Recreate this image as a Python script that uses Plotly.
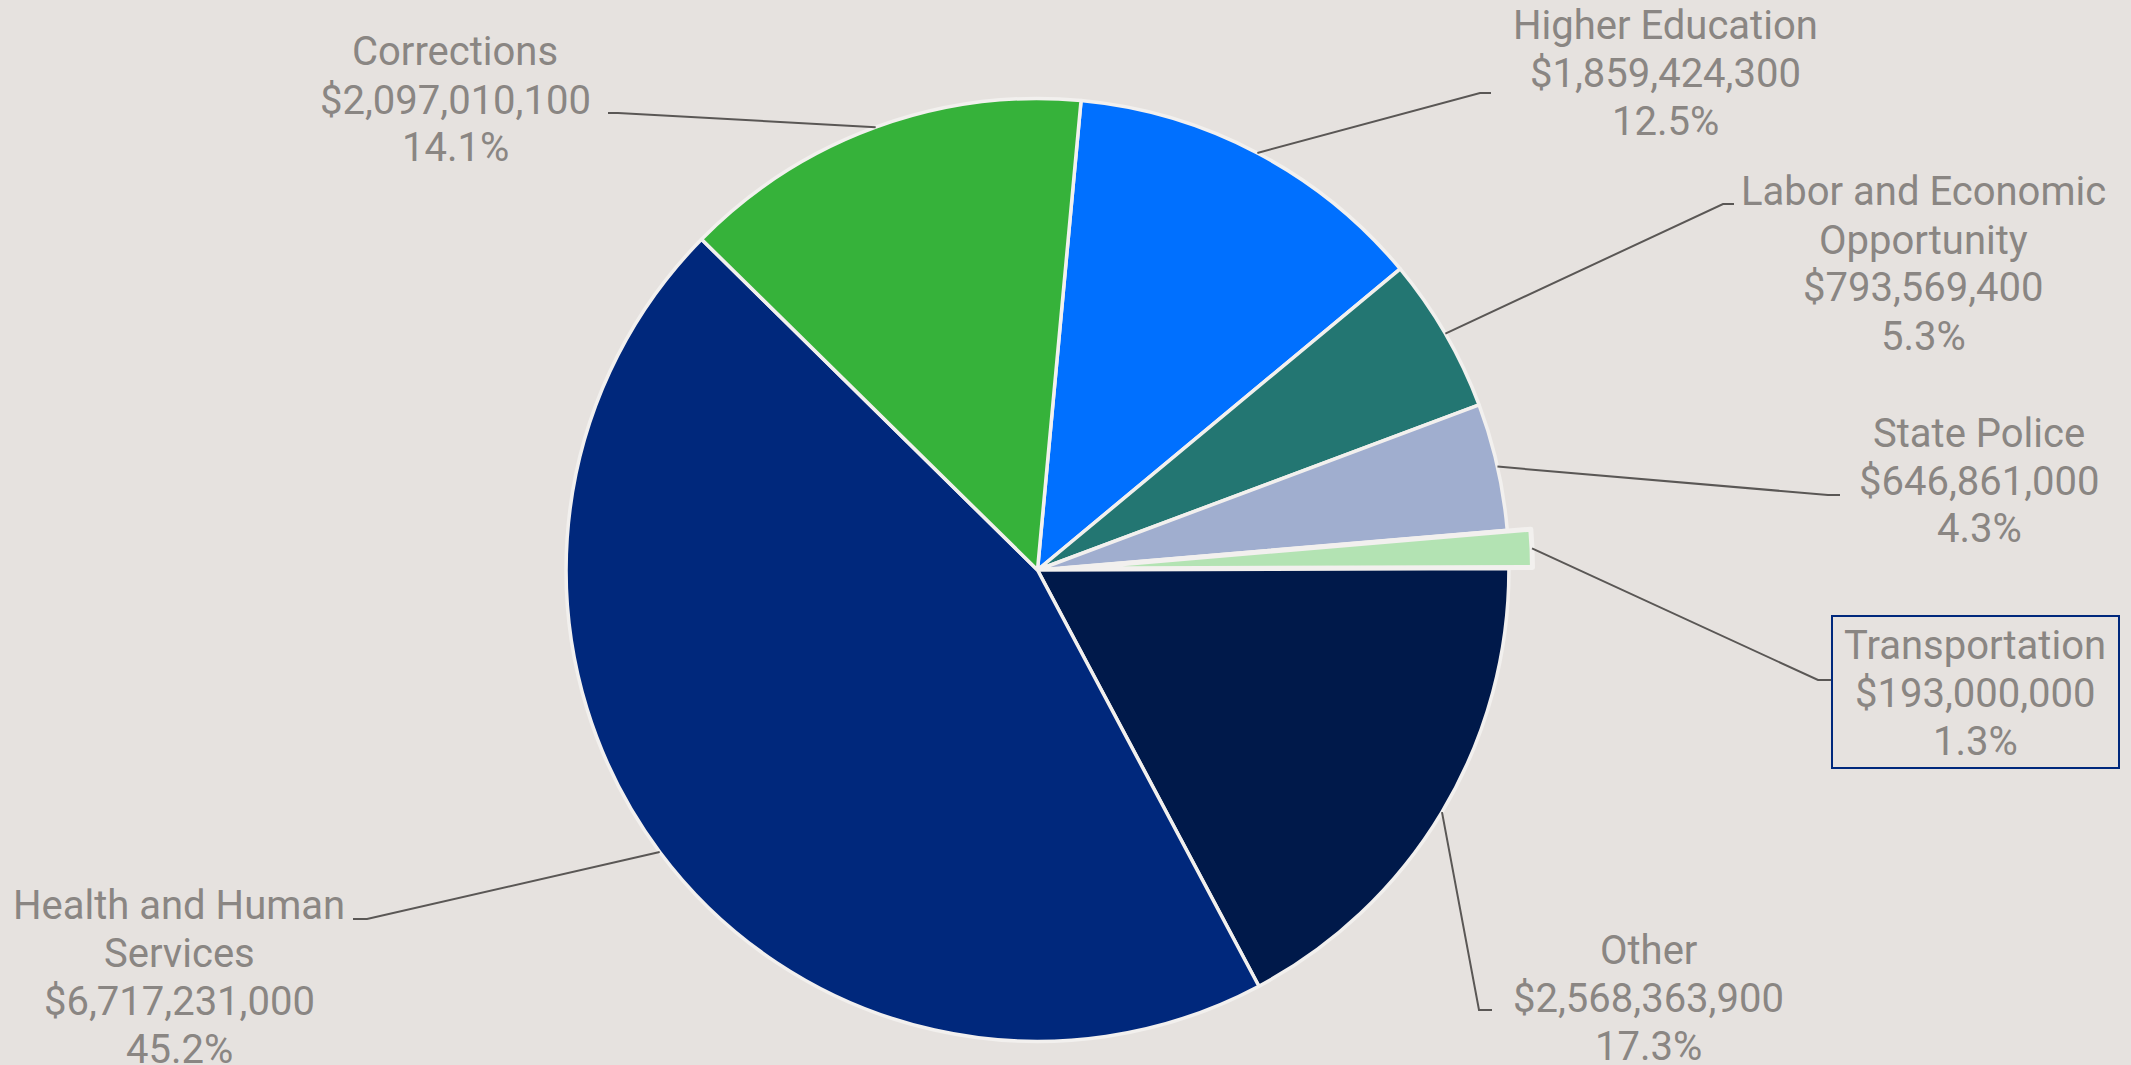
import math
import plotly.graph_objects as go

# ---- data ----
categories = ["Higher Education", "Labor and Economic Opportunity", "State Police",
              "Transportation", "Other", "Health and Human Services", "Corrections"]
values = [1859424300, 793569400, 646861000, 193000000, 2568363900, 6717231000, 2097010100]
label_lines = [
    ["Higher Education"],
    ["Labor and Economic", "Opportunity"],
    ["State Police"],
    ["Transportation"],
    ["Other"],
    ["Health and Human", "Services"],
    ["Corrections"],
]
colors = ["#0070FF", "#237672", "#A0AECF", "#B3E3B3", "#00194A", "#00287C", "#36B23A"]
pulls = [0, 0, 0, 0.05, 0, 0, 0]

# ---- layout constants (pixels) ----
W, H = 2131, 1065
BG = "#E6E2DF"
TXT = "#8A8683"
FONT = "Roboto"
FS = 40
LH = 48
ROT = 5.3  # degrees clockwise from 12 o'clock where first slice starts

cx_px = 1037.5
cy_px = 570.0
ry = H - cy_px              # half-height of pie domain (domain touches bottom)
r_px = ry / (1 + max(pulls))
dom_y = [0, 2 * ry / H]
dom_x = [(cx_px - ry) / W, (cx_px + ry) / W]

# label placement: (center x, first line y), leader (elbow x, elbow y, end x)
label_pos = [
    (1665, 25, (1480, 93, 1491)),
    (1923, 192, (1723, 204, 1734)),
    (1979, 433, (1828, 495, 1840)),
    (1975, 645, (1818, 680, 1831)),
    (1648, 950, (1479, 1010, 1492)),
    (179, 905, (367, 919, 353)),
    (455, 52, (618, 113, 608)),
]

total = sum(values)


def px2paper(x, y):
    return x / W, 1 - y / H


fig = go.Figure()
fig.add_trace(go.Pie(
    labels=categories,
    values=values,
    sort=False,
    direction="clockwise",
    rotation=ROT,
    pull=pulls,
    marker=dict(colors=colors,
                line=dict(color="#F2F0EE", width=[3.5, 3.5, 3.5, 5, 3.5, 3.5, 3.5])),
    textinfo="none",
    showlegend=False,
    domain=dict(x=dom_x, y=dom_y),
))

annotations = []
shapes = []
cum = 0.0
for i, v in enumerate(values):
    frac = v / total
    mid = ROT + 360 * (cum + frac / 2)
    cum += frac
    a = math.radians(mid)
    rr = r_px * (1 + pulls[i])
    ax = cx_px + rr * math.sin(a)
    ay = cy_px - rr * math.cos(a)
    lx, ly0, (ex, ey, endx) = label_pos[i]
    lines = label_lines[i] + ["${:,.0f}".format(v), "{:.1f}%".format(frac * 100)]
    for k, t in enumerate(lines):
        px, py = px2paper(lx, ly0 + k * LH)
        annotations.append(dict(
            x=px, y=py, xref="paper", yref="paper", text=t, showarrow=False,
            xanchor="center", yanchor="middle",
            font=dict(family=FONT, size=FS, color=TXT),
        ))
    p0 = px2paper(ax, ay)
    p1 = px2paper(ex, ey)
    p2 = px2paper(endx, ey)
    shapes.append(dict(
        type="path", xref="paper", yref="paper",
        path="M {} {} L {} {} L {} {}".format(p0[0], p0[1], p1[0], p1[1], p2[0], p2[1]),
        line=dict(color="#5A5755", width=2),
    ))

# highlight box around Transportation label
b0 = px2paper(1832, 616)
b1 = px2paper(2119, 768)
shapes.append(dict(type="rect", xref="paper", yref="paper",
                   x0=b0[0], y0=b0[1], x1=b1[0], y1=b1[1],
                   line=dict(color="#00287C", width=2)))

fig.update_layout(
    width=W, height=H,
    margin=dict(l=0, r=0, t=0, b=0),
    paper_bgcolor=BG, plot_bgcolor=BG,
    annotations=annotations,
    shapes=shapes,
)

fig.write_html(
    "out.html",
    config={"displayModeBar": False},
    post_script="document.body.style.margin='0px';"
                "document.body.style.overflow='hidden';"
                "document.body.style.background='" + BG + "';",
)
